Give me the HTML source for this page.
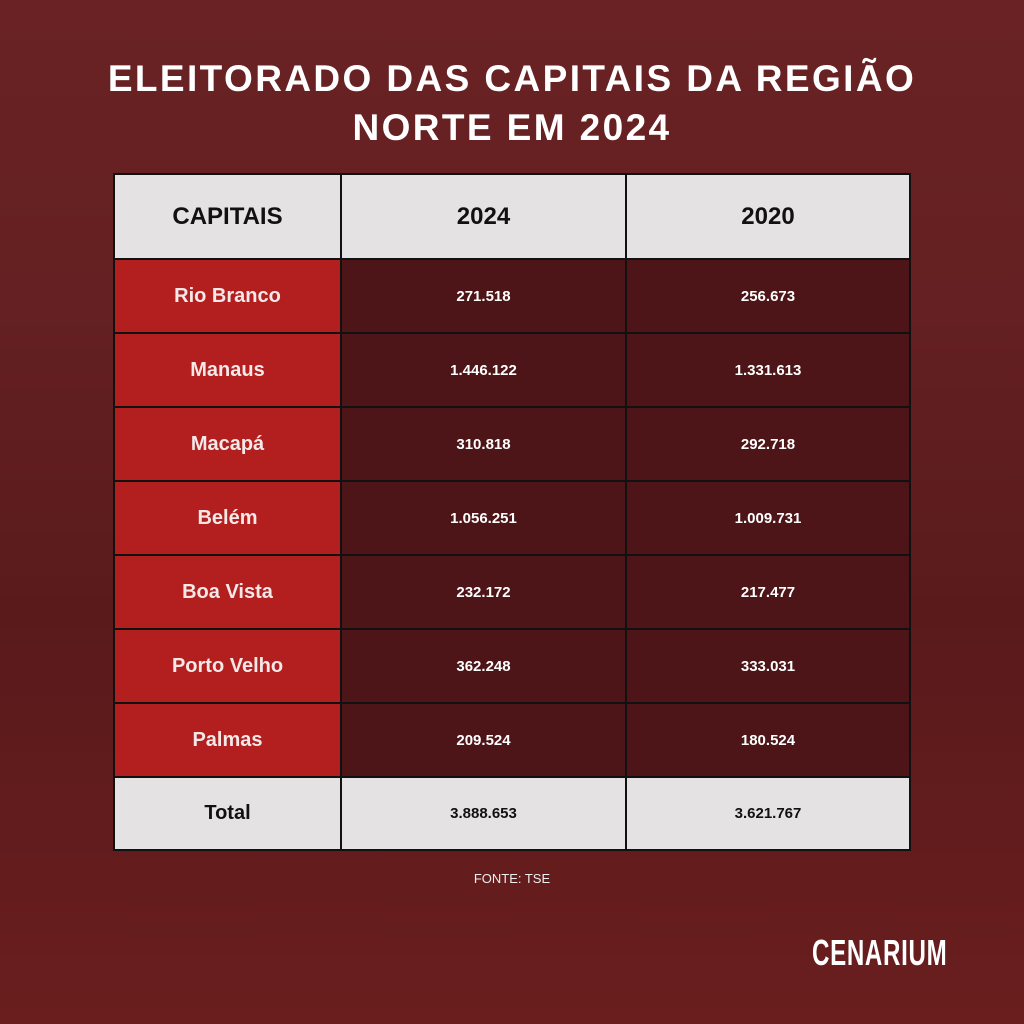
<!DOCTYPE html>
<html><head><style>
body{margin:0;width:1024px;height:1024px;overflow:hidden;font-family:"Liberation Sans",sans-serif;}
#bg{position:absolute;left:0;top:0;width:1024px;height:1024px;background:linear-gradient(180deg,#6a2224 0%,#642022 30%,#5a1a1c 60%,#641c1d 85%,#6a1e1e 100%);}
.t{position:absolute;left:0;width:1024px;text-align:center;color:#fff;font-weight:bold;font-size:37px;letter-spacing:2.4px;}
.c{position:absolute;box-sizing:border-box;display:flex;align-items:center;justify-content:center;font-weight:bold;}
.h{background:#e4e2e2;color:#111;font-size:24px;}
.r{background:#b31f1f;color:#f4e8e8;font-size:20px;}
.d{background:#4d1517;color:#fff;font-size:15px;}
.tot{background:#e4e2e2;color:#111;font-size:15px;}
</style></head><body>
<div id="bg"></div>
<div class="t" style="top:58px">ELEITORADO DAS CAPITAIS DA REGIÃO</div>
<div class="t" style="top:107px">NORTE EM 2024</div>
<div style="position:absolute;left:113px;top:173px;width:798px;height:678px;background:#111;"></div>
<div id="cells"></div>
<div style="position:absolute;top:871px;left:0;width:1024px;text-align:center;color:#eee;font-size:13px;">FONTE: TSE</div>
<div style="position:absolute;left:812px;top:932px;color:#fff;font-size:36px;font-weight:bold;letter-spacing:1px;transform:scaleX(0.67);transform-origin:left;">CENARIUM</div>
<script>
var xs=[115,341,626,909],ys=[175,259,333,407,481,555,629,703,777,849];
var rows=[["CAPITAIS","2024","2020"],["Rio Branco","271.518","256.673"],["Manaus","1.446.122","1.331.613"],["Macapá","310.818","292.718"],["Belém","1.056.251","1.009.731"],["Boa Vista","232.172","217.477"],["Porto Velho","362.248","333.031"],["Palmas","209.524","180.524"],["Total","3.888.653","3.621.767"]];
var h="";
for(var i=0;i<9;i++)for(var j=0;j<3;j++){
var y0=ys[i]+(i>0?1:0),y1=ys[i+1]-(i<8?1:0);
var x0=xs[j]+(j>0?1:0),x1=xs[j+1]-(j<2?1:0);
h+='<div class="c '+(i==0?"h":i==8?"tot":j==0?"r":"d")+'" style="left:'+x0+'px;top:'+y0+'px;width:'+(x1-x0)+'px;height:'+(y1-y0)+'px;'+(i==8&&j==0?'font-size:20px;':'')+'">'+rows[i][j]+'</div>';
}
document.getElementById("cells").innerHTML=h;
</script>
</body></html>
